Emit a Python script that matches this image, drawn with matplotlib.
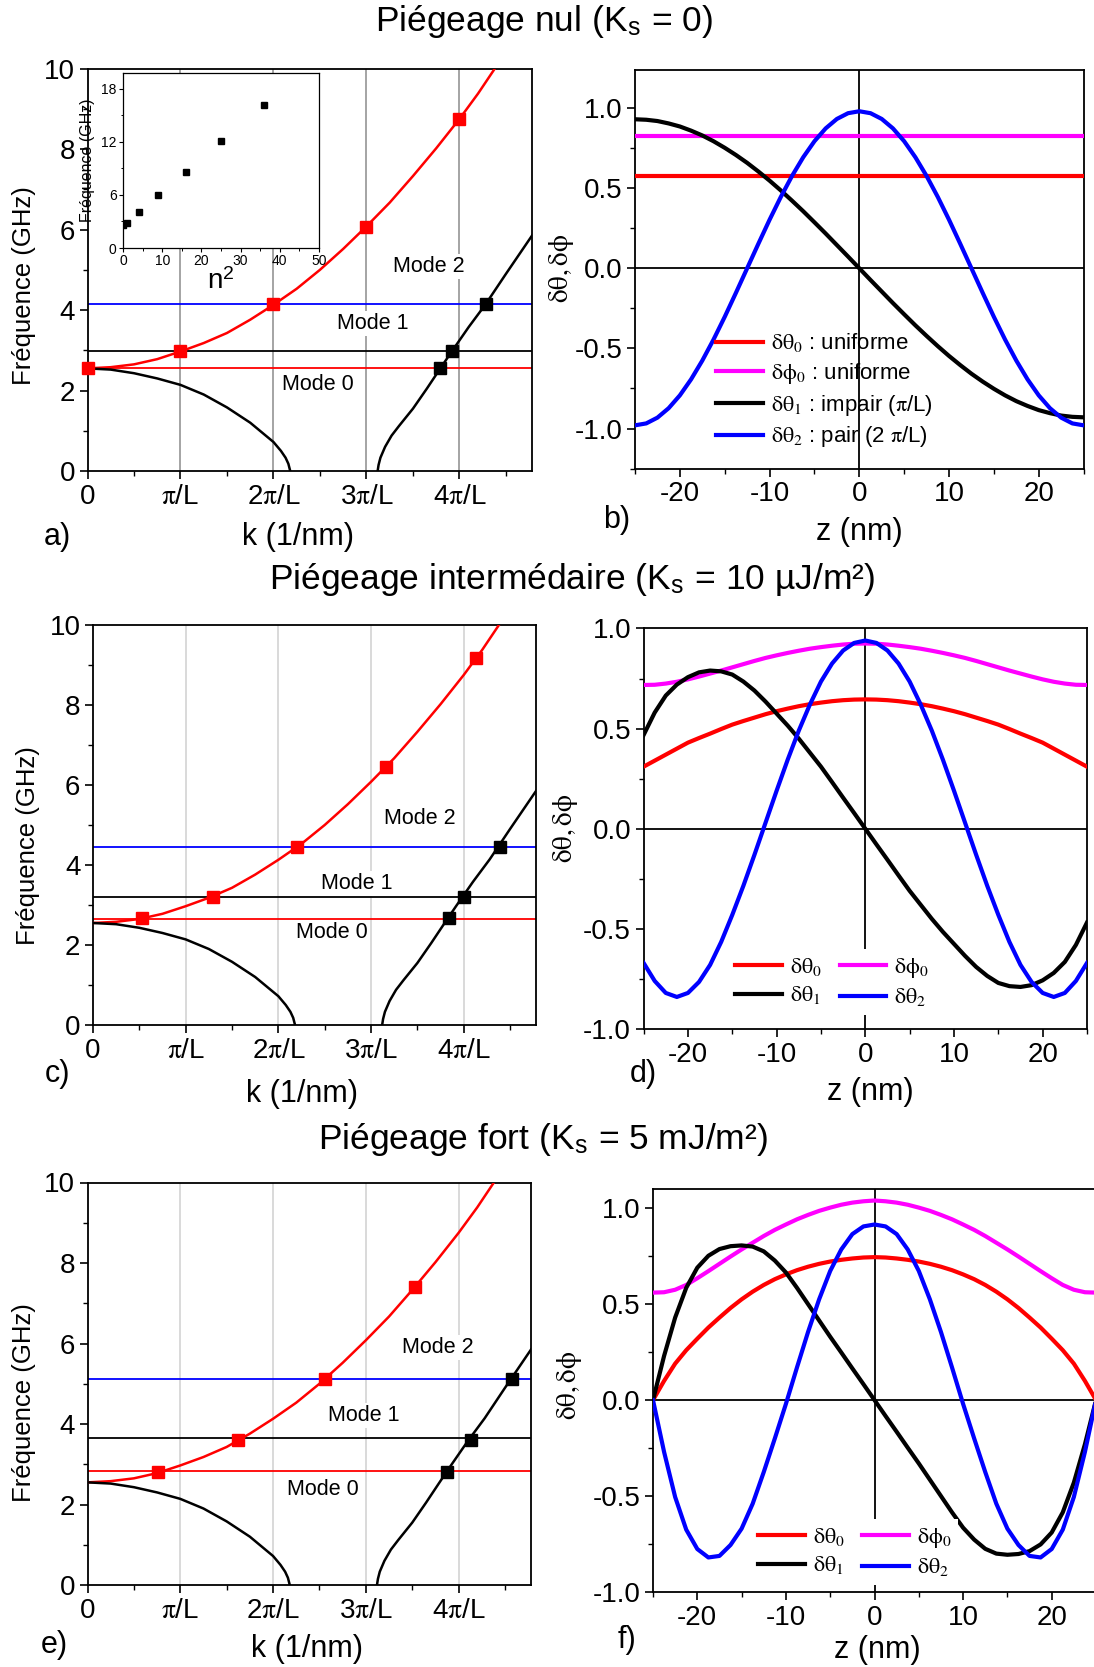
import matplotlib
matplotlib.use("Agg")
import matplotlib.pyplot as plt
from matplotlib.ticker import MultipleLocator

plt.rcParams['font.family'] = ['Liberation Sans', 'DejaVu Sans']
plt.rcParams['mathtext.fontset'] = 'stix'
plt.rcParams['axes.unicode_minus'] = False

# ---------------- data ----------------
# dispersion curves (k in units of pi/L, frequency in GHz)
k_disp = [0, 0.25, 0.5, 0.75, 1.0, 1.25, 1.5, 1.75, 2.0, 2.25, 2.5, 2.75, 3.0, 3.25, 3.5, 3.75, 4.0, 4.2, 4.38]
f_disp = [2.55, 2.58, 2.65, 2.78, 2.97, 3.18, 3.43, 3.76, 4.13, 4.53, 5.0, 5.52, 6.08, 6.67, 7.33, 8.02, 8.75, 9.38, 10.0]
k_low = [0, 0.25, 0.5, 0.75, 1.0, 1.25, 1.5, 1.75, 2.0, 2.08, 2.13, 2.16, 2.18]
f_low = [2.55, 2.52, 2.43, 2.3, 2.14, 1.9, 1.58, 1.2, 0.72, 0.5, 0.33, 0.18, 0.0]
k_up = [3.12, 3.13, 3.15, 3.2, 3.27, 3.35, 3.5, 3.65, 3.8, 3.92, 4.1, 4.28, 4.5, 4.78]
f_up = [0.0, 0.15, 0.33, 0.6, 0.88, 1.12, 1.55, 2.05, 2.57, 2.98, 3.58, 4.14, 4.9, 5.85]

# panel a (Ks = 0)
a_red_k = [0, 1, 2, 3, 4]
a_red_f = [2.57, 2.97, 4.14, 6.07, 8.74]
a_blk_k = [3.79, 3.92, 4.28]
a_blk_f = [2.57, 2.97, 4.14]
a_levels = [2.57, 2.97, 4.14]
# panel c (Ks = 10 uJ/m2)
c_red_k = [0.53, 1.3, 2.2, 3.16, 4.13]
c_red_f = [2.67, 3.2, 4.46, 6.45, 9.17]
c_blk_k = [3.84, 4.0, 4.39]
c_blk_f = [2.67, 3.2, 4.46]
c_levels = [2.65, 3.2, 4.46]
# panel e (Ks = 5 mJ/m2)
e_red_k = [0.76, 1.62, 2.56, 3.53]
e_red_f = [2.8, 3.6, 5.13, 7.41]
e_blk_k = [3.87, 4.13, 4.58]
e_blk_f = [2.8, 3.6, 5.13]
e_levels = [2.82, 3.65, 5.13]

# inset
inset_n2 = [0, 1, 4, 9, 16, 25, 36]
inset_f = [2.64, 2.83, 4.08, 5.96, 8.64, 12.08, 16.2]

k_ticklabels = ['0', r'$\mathrm{\pi}$/L', r'2$\mathrm{\pi}$/L', r'3$\mathrm{\pi}$/L', r'4$\mathrm{\pi}$/L']

# mode profiles, z in nm
z = [-25.0, -23.75, -22.5, -21.25, -20.0, -18.75, -17.5, -16.25, -15.0, -13.75, -12.5, -11.25, -10.0,
     -8.75, -7.5, -6.25, -5.0, -3.75, -2.5, -1.25, 0.0, 1.25, 2.5, 3.75, 5.0, 6.25, 7.5, 8.75, 10.0,
     11.25, 12.5, 13.75, 15.0, 16.25, 17.5, 18.75, 20.0, 21.25, 22.5, 23.75, 25.0]
z_ends = [-25.0, 25.0]

b_theta0 = [0.575, 0.575]
b_phi0 = [0.825, 0.825]
b_theta1 = [0.930, 0.927, 0.919, 0.904, 0.885, 0.859, 0.829, 0.793, 0.752, 0.707, 0.658, 0.604, 0.547,
            0.486, 0.422, 0.356, 0.287, 0.217, 0.145, 0.073, 0.0, -0.073, -0.145, -0.217, -0.287, -0.356,
            -0.422, -0.486, -0.547, -0.604, -0.658, -0.707, -0.752, -0.793, -0.829, -0.859, -0.885,
            -0.904, -0.919, -0.927, -0.930]
b_theta2 = [-0.980, -0.968, -0.932, -0.873, -0.793, -0.693, -0.576, -0.445, -0.303, -0.153, 0.0, 0.153,
            0.303, 0.445, 0.576, 0.693, 0.793, 0.873, 0.932, 0.968, 0.980, 0.968, 0.932, 0.873, 0.793,
            0.693, 0.576, 0.445, 0.303, 0.153, 0.0, -0.153, -0.303, -0.445, -0.576, -0.693, -0.793,
            -0.873, -0.932, -0.968, -0.980]

d_theta0 = [0.31, 0.34, 0.37, 0.40, 0.43, 0.453, 0.475, 0.498, 0.52, 0.538, 0.555, 0.572, 0.587, 0.60,
            0.612, 0.622, 0.63, 0.637, 0.642, 0.645, 0.646, 0.645, 0.642, 0.637, 0.63, 0.622, 0.612,
            0.60, 0.587, 0.572, 0.555, 0.538, 0.52, 0.498, 0.475, 0.453, 0.43, 0.40, 0.37, 0.34, 0.31]
d_phi0 = [0.718, 0.719, 0.725, 0.734, 0.746, 0.76, 0.775, 0.79, 0.806, 0.822, 0.838, 0.853, 0.866,
          0.878, 0.889, 0.899, 0.907, 0.914, 0.92, 0.924, 0.925, 0.924, 0.92, 0.914, 0.907, 0.899,
          0.889, 0.878, 0.866, 0.853, 0.838, 0.822, 0.806, 0.79, 0.775, 0.76, 0.746, 0.734, 0.725,
          0.719, 0.718]
d_theta1 = [0.468, 0.58, 0.665, 0.72, 0.757, 0.781, 0.79, 0.786, 0.77, 0.735, 0.69, 0.635, 0.575,
            0.515, 0.45, 0.38, 0.31, 0.233, 0.155, 0.078, 0.0, -0.078, -0.155, -0.233, -0.31, -0.38,
            -0.45, -0.515, -0.575, -0.635, -0.69, -0.735, -0.77, -0.786, -0.79, -0.781, -0.757,
            -0.72, -0.665, -0.58, -0.468]
d_theta2 = [-0.67, -0.76, -0.82, -0.84, -0.82, -0.765, -0.68, -0.565, -0.43, -0.285, -0.13, 0.03,
            0.19, 0.345, 0.49, 0.62, 0.735, 0.825, 0.89, 0.928, 0.94, 0.928, 0.89, 0.825, 0.735,
            0.62, 0.49, 0.345, 0.19, 0.03, -0.13, -0.285, -0.43, -0.565, -0.68, -0.765, -0.82,
            -0.84, -0.82, -0.76, -0.67]

f_theta0 = [0.0, 0.1, 0.19, 0.26, 0.32, 0.378, 0.43, 0.48, 0.525, 0.565, 0.6, 0.63, 0.655, 0.677,
            0.695, 0.71, 0.722, 0.731, 0.738, 0.743, 0.745, 0.743, 0.738, 0.731, 0.722, 0.71, 0.695,
            0.677, 0.655, 0.63, 0.6, 0.565, 0.525, 0.48, 0.43, 0.378, 0.32, 0.26, 0.19, 0.1, 0.0]
f_phi0 = [0.56, 0.562, 0.575, 0.6, 0.635, 0.672, 0.71, 0.748, 0.785, 0.82, 0.855, 0.887, 0.915,
          0.942, 0.965, 0.986, 1.003, 1.018, 1.029, 1.036, 1.04, 1.036, 1.029, 1.018, 1.003, 0.986,
          0.965, 0.942, 0.915, 0.887, 0.855, 0.82, 0.785, 0.748, 0.71, 0.672, 0.635, 0.6, 0.575,
          0.562, 0.56]
f_theta1 = [0.0, 0.23, 0.43, 0.585, 0.69, 0.752, 0.787, 0.802, 0.806, 0.8, 0.775, 0.727, 0.665,
            0.585, 0.5, 0.415, 0.33, 0.248, 0.165, 0.083, 0.0, -0.083, -0.165, -0.248, -0.33,
            -0.415, -0.5, -0.585, -0.665, -0.727, -0.775, -0.8, -0.806, -0.802, -0.787, -0.752,
            -0.69, -0.585, -0.43, -0.23, 0.0]
f_theta2 = [0.0, -0.27, -0.505, -0.675, -0.776, -0.82, -0.812, -0.755, -0.67, -0.54, -0.375, -0.2,
            -0.02, 0.17, 0.355, 0.525, 0.673, 0.785, 0.865, 0.905, 0.915, 0.905, 0.865, 0.785, 0.673,
            0.525, 0.355, 0.17, -0.02, -0.2, -0.375, -0.54, -0.67, -0.755, -0.812, -0.82, -0.776,
            -0.675, -0.505, -0.27, 0.0]

RED = '#ff0000'
MAG = '#ff00ff'
BLUE = '#0000ff'
BLK = '#000000'

TICK_FS = 20
W, H = 1094, 1667
fig = plt.figure(figsize=(W / 100, H / 100), dpi=100)


def box(l, r, t, b):
    return [l / W, 1 - b / H, (r - l) / W, (b - t) / H]


def style_spines(ax, lw=1.3):
    for s in ax.spines.values():
        s.set_linewidth(lw)


def k_panel(ax, grid_color, red_k, red_f, blk_k, blk_f, levels, modes):
    ax.set_xlim(0, 4.78)
    ax.set_ylim(0, 10)
    for xv in [1, 2, 3, 4]:
        ax.axvline(xv, color=grid_color, lw=1.1, zorder=0)
    for lev, col in zip(levels, [RED, BLK, BLUE]):
        ax.axhline(lev, color=col, lw=1.3, zorder=2)
    ax.plot(k_disp, f_disp, color=RED, lw=1.8, zorder=3)
    ax.plot(k_low, f_low, color=BLK, lw=1.8, zorder=3)
    ax.plot(k_up, f_up, color=BLK, lw=1.8, zorder=3)
    ax.plot(red_k, red_f, 's', color=RED, ms=8.5, zorder=4, clip_on=False)
    ax.plot(blk_k, blk_f, 's', color=BLK, ms=8.5, zorder=4, clip_on=False)
    for (txt, x, y) in modes:
        ax.text(x, y, txt, fontsize=15.5, ha='center', va='center', zorder=1.5,
                bbox=dict(facecolor='white', edgecolor='none', pad=1.5))
    ax.set_xticks([0, 1, 2, 3, 4])
    ax.set_xticklabels(k_ticklabels)
    ax.xaxis.set_minor_locator(MultipleLocator(0.5))
    ax.set_yticks([0, 2, 4, 6, 8, 10])
    ax.yaxis.set_minor_locator(MultipleLocator(1))
    ax.tick_params(which='major', direction='out', length=6, width=1.2, labelsize=TICK_FS, pad=3)
    ax.tick_params(which='minor', direction='out', length=3.5, width=1.0)
    style_spines(ax)


def z_panel(ax, ylim, curves, handles_order, ncol, leg_center, leg_size, leg_alpha, lspace):
    ax.set_xlim(-25, 25)
    ax.set_ylim(*ylim)
    ax.axhline(0, color=BLK, lw=1.3, zorder=1)
    ax.axvline(0, color=BLK, lw=1.3, zorder=1)
    lines = []
    for (zz, yy, col, lab) in curves:
        ln, = ax.plot(zz, yy, color=col, lw=3, label=lab, zorder=3)
        lines.append(ln)
    hs = [lines[i] for i in handles_order]
    leg = ax.legend(handles=hs, loc='center', bbox_to_anchor=leg_center, ncol=ncol,
                    fontsize=leg_size, frameon=True, framealpha=leg_alpha, edgecolor='none',
                    facecolor='white', handlelength=2.1, handletextpad=0.35,
                    columnspacing=0.8, labelspacing=lspace, borderpad=0.3, fancybox=False)
    leg.set_zorder(5)
    ax.set_xticks([-20, -10, 0, 10, 20])
    ax.xaxis.set_minor_locator(MultipleLocator(5))
    ax.set_yticks([-1.0, -0.5, 0.0, 0.5, 1.0])
    ax.set_yticklabels(['-1.0', '-0.5', '0.0', '0.5', '1.0'])
    ax.yaxis.set_minor_locator(MultipleLocator(0.25))
    ax.tick_params(which='major', direction='out', length=6, width=1.2, labelsize=TICK_FS, pad=3)
    ax.tick_params(which='minor', direction='out', length=3.5, width=1.0)
    style_spines(ax)


# ---------------- panel a ----------------
ax_a = fig.add_axes(box(87.5, 532, 68.6, 471))
k_panel(ax_a, '#8c8c8c', a_red_k, a_red_f, a_blk_k, a_blk_f, a_levels,
        [('Mode 0', 2.48, 2.16), ('Mode 1', 3.07, 3.67), ('Mode 2', 3.67, 5.09)])

# inset
ax_in = fig.add_axes(box(123, 319, 73, 248))
ax_in.set_zorder(6)
ax_in.plot(inset_n2, inset_f, 's', color=BLK, ms=4.5)
ax_in.set_xlim(0, 50)
ax_in.set_ylim(0, 19.8)
ax_in.set_xticks([0, 10, 20, 30, 40, 50])
ax_in.set_yticks([0, 6, 12, 18])
ax_in.xaxis.set_minor_locator(MultipleLocator(5))
ax_in.yaxis.set_minor_locator(MultipleLocator(3))
ax_in.tick_params(which='major', direction='out', length=3, width=0.8, labelsize=10, pad=1.5)
ax_in.tick_params(which='minor', direction='out', length=1.8, width=0.7)
ax_in.set_xlabel(r'n$^\mathregular{2}$', fontsize=20, labelpad=0)
ax_in.set_ylabel('Fréquence (GHz)', fontsize=11.5)
ax_in.yaxis.set_label_coords(-0.145, 0.5)
style_spines(ax_in, 0.9)

# ---------------- panel b ----------------
ax_b = fig.add_axes(box(635, 1083.6, 69.6, 468.6))
z_panel(ax_b, (-1.25, 1.24),
        [(z_ends, b_theta0, RED, r'$\mathrm{\delta\theta_0}$ : uniforme'),
         (z_ends, b_phi0, MAG, r'$\mathrm{\delta\phi_0}$ : uniforme'),
         (z, b_theta1, BLK, r'$\mathrm{\delta\theta_1}$ : impair ($\mathrm{\pi}$/L)'),
         (z, b_theta2, BLUE, r'$\mathrm{\delta\theta_2}$ : pair (2 $\mathrm{\pi}$/L)')],
        [0, 1, 2, 3], 1, (0.422, 0.196), 16, 0.0, 0.3)

# ---------------- panel c ----------------
ax_c = fig.add_axes(box(93, 536, 625, 1025))
k_panel(ax_c, '#d0d0d0', c_red_k, c_red_f, c_blk_k, c_blk_f, c_levels,
        [('Mode 0', 2.58, 2.31), ('Mode 1', 2.85, 3.54), ('Mode 2', 3.53, 5.15)])

# ---------------- panel d ----------------
ax_d = fig.add_axes(box(643.6, 1087, 628.5, 1029))
z_panel(ax_d, (-1.0, 1.0),
        [(z, d_theta0, RED, r'$\mathrm{\delta\theta_0}$'),
         (z, d_phi0, MAG, r'$\mathrm{\delta\phi_0}$'),
         (z, d_theta1, BLK, r'$\mathrm{\delta\theta_1}$'),
         (z, d_theta2, BLUE, r'$\mathrm{\delta\theta_2}$')],
        [0, 2, 1, 3], 2, (0.425, 0.117), 16, 1.0, 0.3)

# ---------------- panel e ----------------
ax_e = fig.add_axes(box(87.5, 531, 1182.5, 1585))
k_panel(ax_e, '#d0d0d0', e_red_k, e_red_f, e_blk_k, e_blk_f, e_levels,
        [('Mode 0', 2.54, 2.37), ('Mode 1', 2.98, 4.21), ('Mode 2', 3.78, 5.9)])

# ---------------- panel f ----------------
ax_f = fig.add_axes(box(653, 1096, 1189, 1592))
z_panel(ax_f, (-1.0, 1.1),
        [(z, f_theta0, RED, r'$\mathrm{\delta\theta_0}$'),
         (z, f_phi0, MAG, r'$\mathrm{\delta\phi_0}$'),
         (z, f_theta1, BLK, r'$\mathrm{\delta\theta_1}$'),
         (z, f_theta2, BLUE, r'$\mathrm{\delta\theta_2}$')],
        [0, 2, 1, 3], 2, (0.456, 0.099), 16, 1.0, 0.3)
ax_f.spines['right'].set_visible(False)

# ---------------- texts ----------------
TITLE_FS = 25.5
fig.text(544 / W, 1 - 22 / H, r'Piégeage nul (K$_\mathregular{s}$ = 0)', fontsize=TITLE_FS, ha='center', va='center')
fig.text(572 / W, 1 - 580 / H, r'Piégeage intermédaire (K$_\mathregular{s}$ = 10 µJ/m²)', fontsize=TITLE_FS,
         ha='center', va='center')
fig.text(543 / W, 1 - 1140 / H, r'Piégeage fort (K$_\mathregular{s}$ = 5 mJ/m²)', fontsize=TITLE_FS,
         ha='center', va='center')

for (txt, x, y) in [('a)', 57, 537), ('b)', 617, 520), ('c)', 57, 1074), ('d)', 643, 1074),
                    ('e)', 54, 1645), ('f)', 627, 1640)]:
    fig.text(x / W, 1 - y / H, txt, fontsize=22, ha='center', va='center')

for (x, y) in [(298, 537), (302, 1094), (307, 1649)]:
    fig.text(x / W, 1 - y / H, 'k (1/nm)', fontsize=22, ha='center', va='center')
for (x, y) in [(859, 532), (870, 1092), (877, 1650)]:
    fig.text(x / W, 1 - y / H, 'z (nm)', fontsize=22, ha='center', va='center')
for (x, y) in [(24, 286), (28, 846), (24, 1403)]:
    fig.text(x / W, 1 - y / H, 'Fréquence (GHz)', fontsize=18.5, ha='center', va='center', rotation=90)
for (x, y) in [(561, 268), (565, 828), (570, 1385)]:
    fig.text(x / W, 1 - y / H, r'$\mathrm{\delta\theta, \delta\phi}$', fontsize=19.5, ha='center',
             va='center', rotation=90)

fig.savefig('out.png', dpi=100)
